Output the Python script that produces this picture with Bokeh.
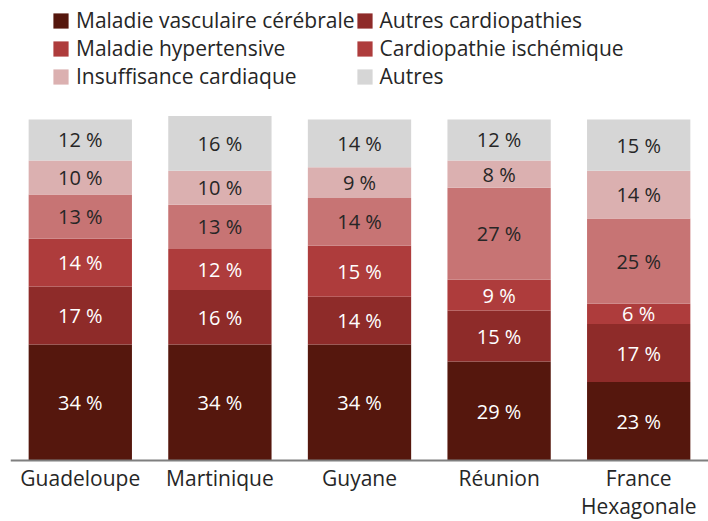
import pandas as pd
from bokeh.plotting import figure
from bokeh.models import ColumnDataSource, FactorRange, Range1d, Legend, LegendItem, Span
from bokeh.core.properties import value
from bokeh.embed import file_html
from bokeh.resources import INLINE

# ---- data ----
regions = ["Guadeloupe", "Martinique", "Guyane", "Réunion", "France\nHexagonale"]
series_names = ["Maladie vasculaire cérébrale", "Autres cardiopathies", "Maladie hypertensive",
                "Cardiopathie ischémique", "Insuffisance cardiaque", "Autres"]
vasculaire_cerebrale = [34, 34, 34, 29, 23]
autres_cardiopathies = [17, 16, 14, 15, 17]
maladie_hypertensive = [14, 12, 15, 9, 6]
cardiopathie_ischemique = [13, 13, 14, 27, 25]
insuffisance_cardiaque = [10, 10, 9, 8, 14]
autres = [12, 16, 14, 12, 15]

series_values = [vasculaire_cerebrale, autres_cardiopathies, maladie_hypertensive,
                 cardiopathie_ischemique, insuffisance_cardiaque, autres]
bar_colors = ["#55170d", "#8e2b29", "#ae3c3c", "#c77474", "#dbb0b0", "#d6d6d6"]
legend_colors = ["#55170d", "#8e2b29", "#ae3c3c", "#ae3c3c", "#dbb0b0", "#d6d6d6"]
label_colors = ["white", "white", "white", "#262626", "#262626", "#262626"]
keys = ["s0", "s1", "s2", "s3", "s4", "s5"]

FONT = "Open Sans"

df = pd.DataFrame({"region": regions})
for k, v in zip(keys, series_values):
    df[k] = v
source = ColumnDataSource(df)

p = figure(width=708, height=521, x_range=FactorRange(*regions), y_range=Range1d(-17.89, 134.9),
           output_backend="svg", toolbar_location=None,
           min_border_left=10, min_border_right=0, min_border_top=0, min_border_bottom=0)

p.vbar_stack(keys, x="region", width=0.74, color=bar_colors, line_color=None, source=source)

# segment labels
rows = []
for i, r in enumerate(regions):
    bottom = 0
    for j, v in enumerate(series_values):
        val = v[i]
        rows.append(dict(region=r, y=bottom + val / 2, txt=f"{val} %", col=label_colors[j]))
        bottom += val
lab = ColumnDataSource(pd.DataFrame(rows))
p.text(x="region", y="y", text="txt", source=lab, text_color="col",
       text_font=value(FONT), text_font_size="20px", text_align="center", text_baseline="middle")

# baseline (category axis line) and category labels (one text per line)
p.add_layout(Span(location=0, dimension="width", line_color="#7f7f7f", line_width=2))
split = [r.split("\n") + [""] for r in regions]
cat_src = ColumnDataSource(dict(region=regions, y=[0] * len(regions),
                                line1=[s[0] for s in split], line2=[s[1] for s in split]))
for col, off in (("line1", 18), ("line2", 46)):
    p.text(x="region", y="y", text=col, source=cat_src, text_color="#262626",
           text_font=value(FONT), text_font_size="21px", text_align="center",
           text_baseline="middle", y_offset=off)

# legend via zero-height renderers
items = []
for name, c in zip(series_names, legend_colors):
    r = p.vbar(x=[regions[0]], top=[0], bottom=[0], width=0.01, fill_color=c, line_color=None)
    items.append(LegendItem(label=name, renderers=[r]))
legend = Legend(items=items, location=(41, 431), orientation="horizontal", ncols=2,
                label_text_font=FONT, label_text_font_size="21px", label_text_color="#262626",
                glyph_width=19, glyph_height=19, label_height=20, label_standoff=6,
                spacing=0, padding=0, margin=0, border_line_color=None, background_fill_alpha=0)
p.add_layout(legend, "center")

p.xaxis.visible = False
p.yaxis.visible = False
p.xgrid.grid_line_color = None
p.ygrid.grid_line_color = None
p.outline_line_color = None
p.x_range.range_padding = 0

open("out.html", "w").write(file_html(p, INLINE))
